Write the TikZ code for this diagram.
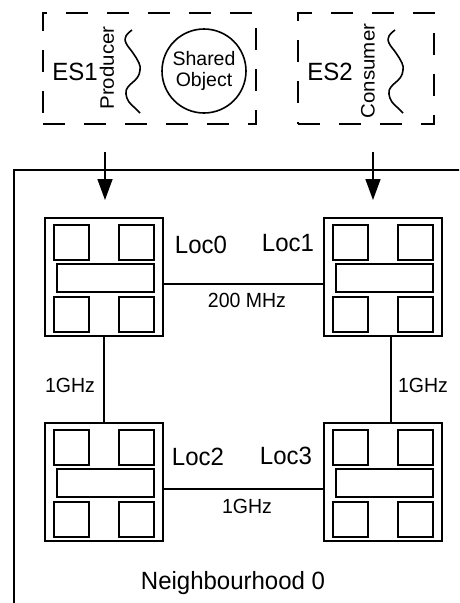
\documentclass[tikz,border=0pt]{standalone}
\usepackage{fontspec}
\setmainfont{Liberation Sans}
\usetikzlibrary{arrows.meta}
\newcommand\mylocality[3]{%
  \node[locbox] (#1) at (#2,#3) {};
  \begin{scope}[shift={(#2,#3)}]
    \draw[cell] (-50,-52) rectangle (-15,-17);
    \draw[cell] (15,-52) rectangle (50,-17);
    \draw[cell] (-47,-13) rectangle (50,15);
    \draw[cell] (-50,20) rectangle (-15,55);
    \draw[cell] (15,20) rectangle (50,55);
  \end{scope}}
\newcommand\mywave[1]{%
  \draw[line width=1.6pt, shift={(#1,0)}] plot[smooth, tension=0.7] coordinates
    {(132,30) (126,36) (126,43) (133,53) (139,63) (140,70) (137,78) (128,87) (126,94) (129,102) (135,108) (140,113)};}
\begin{document}
\begin{tikzpicture}[x=1pt,y=-1pt, line width=1.6pt,
  big/.style={font=\fontsize{24}{26}\selectfont, inner sep=0pt, yscale=1.04},
  small/.style={font=\fontsize{19.5}{21}\selectfont, inner sep=0pt, yscale=1.05},
  dbox/.style={draw, dash pattern=on 22pt off 19pt, line width=1.6pt, inner sep=0pt},
  locbox/.style={draw, line width=2pt, minimum width=118pt, minimum height=118pt, inner sep=0pt},
  cell/.style={line width=1.9pt},
  arr/.style={-{Triangle[width=15pt,length=21pt]}, line width=1.6pt}]
\useasboundingbox (0,0) rectangle (459,603);
\clip (0,0) rectangle (459,603);

% execution sites
\node[dbox, minimum width=213pt, minimum height=111pt] (es1) at (149.5,68.5) {};
\node[dbox, minimum width=136pt, minimum height=111pt] (es2) at (366,68.5) {};
\node[big] (es1t) at (75,72) {ES1};
\node[big] (es2t) at (330,72) {ES2};
\node[small, rotate=90] (prod) at (107,68) {Producer};
\node[small, rotate=90] (cons) at (368,71) {Consumer};
\mywave{0}
\mywave{263}
\node[draw, circle, minimum size=84pt, inner sep=0pt, line width=1.6pt, align=center,
      font=\fontsize{19.5}{20.5}\selectfont] (so) at (204,71) {Shared\\Object};

% neighbourhood
\node[draw, line width=1.6pt, minimum width=520pt, minimum height=500pt, inner sep=0pt,
      anchor=north west] (nb) at (13,169) {};
\node[big] (nbt) at (233,583) {Neighbourhood 0};

% localities
\mylocality{loc0}{104}{277}
\mylocality{loc1}{383}{277}
\mylocality{loc2}{104}{482}
\mylocality{loc3}{383}{482}
\node[big] (l0) at (201,245) {Loc0};
\node[big] (l1) at (288,243) {Loc1};
\node[big] (l2) at (198,457) {Loc2};
\node[big] (l3) at (286,456) {Loc3};

% links
\draw ([yshift=-7pt]loc0.east) -- ([yshift=-7pt]loc1.west);
\draw ([yshift=-7pt]loc2.east) -- ([yshift=-7pt]loc3.west);
\draw (loc0.south) -- (loc2.north);
\draw ([xshift=8pt]loc1.south) -- ([xshift=8pt]loc3.north);
\node[small] (f01) at (247,300) {200 MHz};
\node[small] (f23) at (247,506) {1GHz};
\node[small] (f02) at (70,385) {1GHz};
\node[small] (f13) at (423,385) {1GHz};

% arrows
\coordinate (a1s) at (105,152);
\coordinate (a1e) at (105,200);
\coordinate (a2s) at (373,152);
\coordinate (a2e) at (373,200);
\draw[arr] (a1s) -- (a1e);
\draw[arr] (a2s) -- (a2e);
\end{tikzpicture}
\end{document}
